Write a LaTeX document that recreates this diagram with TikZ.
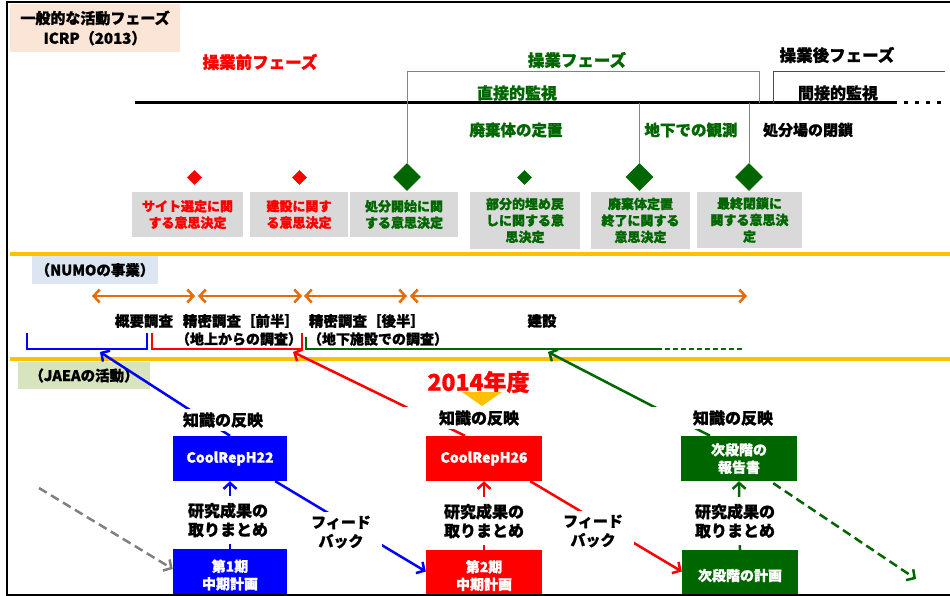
\documentclass[tikz,border=0pt]{standalone}
\usepackage{fontspec}
\setmainfont{Noto Sans CJK JP}[BoldFeatures={FakeBold=1.2}]
\usetikzlibrary{shapes.geometric,arrows.meta}

\definecolor{jblue}{HTML}{0000FF}
\definecolor{jred}{HTML}{FF0000}
\definecolor{jgreen}{HTML}{006600}
\definecolor{opgreen}{HTML}{5A9E5A}
\definecolor{gold}{HTML}{FFC000}
\definecolor{jorange}{HTML}{E46C0A}
\definecolor{peach}{HTML}{FBE5D6}
\definecolor{numobg}{HTML}{DCE6F2}
\definecolor{jaeabg}{HTML}{D7E4BD}
\definecolor{decbg}{HTML}{D9D9D9}
\newcommand{\jfs}[2]{\fontsize{#1}{#2}\selectfont\bfseries}

\begin{document}
\begin{tikzpicture}[x=1pt,y=-1pt,
  >={Straight Barb[length=6pt,width=13pt]},
  gem/.style={diamond, fill=#1, inner sep=0pt, minimum size=15pt},
  biggem/.style={diamond, fill=#1, inner sep=0pt, minimum size=28pt},
  decbox/.style={rectangle, fill=decbg, inner sep=0pt, align=center, font=\jfs{13}{16.5}},
  plan/.style={rectangle, fill=#1, text=white, inner sep=0pt, align=center, font=\jfs{14}{17.5}},
  lbl/.style={fill=white, inner sep=3pt, align=center, font=\jfs{16}{19}},
  period/.style={<->, jorange, line width=2.5pt},
  flow/.style={->, line width=2.5pt}]

  \useasboundingbox (0,0) rectangle (950,596);

  \node[fill=peach, minimum width=170pt, minimum height=48pt, align=center, font=\jfs{15}{20}] (hdr) at (95,28) {一般的な活動フェーズ\\ICRP（2013）};

  \node[text=jred, font=\jfs{16.5}{20}] (pre) at (260,62) {操業前フェーズ};
  \node[text=jgreen, font=\jfs{16.5}{20}] (op) at (577,60) {操業フェーズ};
  \node[font=\jfs{16.5}{20}] (post) at (837,55) {操業後フェーズ};

  \coordinate (tlA) at (135,103);
  \coordinate (tlB) at (897,103);
  \coordinate (tlC) at (945,103);
  \draw[line width=3pt] (tlA) -- (tlB);
  \draw[line width=3pt, dash pattern=on 4pt off 7pt] ([xshift=7pt]tlB) -- (tlC);

  \node[text=jgreen, font=\jfs{16}{19}] (direct) at (517,93) {直接的監視};
  \node[font=\jfs{16}{19}] (indirect) at (838,93) {間接的監視};
  \node[text=jgreen, font=\jfs{15.5}{19}] (emplace) at (516,130) {廃棄体の定置};
  \node[text=jgreen, font=\jfs{15.5}{19}] (observe) at (691,130) {地下での観測};
  \node[font=\jfs{15}{19}] (closure) at (808,130) {処分場の閉鎖};

  \node[gem=jred] (d1) at (194.5,177.5) {};
  \node[gem=jred] (d2) at (299.5,177.5) {};
  \node[biggem=jgreen] (d3) at (407,177) {};
  \node[gem=jgreen] (d4) at (524.5,177.5) {};
  \node[biggem=jgreen] (d5) at (639.5,177) {};
  \node[biggem=jgreen] (d6) at (749,177) {};

  \draw[opgreen] (d3.north) -- (407,71) -| (759,103);
  \draw[opgreen] (d5.north) -- (d5.north |- tlA);
  \draw[opgreen] (d6.north) -- (d6.north |- tlA);
  \draw[black!70] (773,103) |- (945,71);

  \node[decbox, minimum width=111pt, minimum height=45pt, text=jred] (dec1) at (187.5,214.5) {サイト選定に関\\する意思決定};
  \node[decbox, minimum width=98pt, minimum height=45pt, text=jred] (dec2) at (299,214.5) {建設に関す\\る意思決定};
  \node[decbox, minimum width=108pt, minimum height=45pt, text=jgreen] (dec3) at (404,214.5) {処分開始に関\\する意思決定};
  \node[decbox, minimum width=110pt, minimum height=57pt, text=jgreen] (dec4) at (525,220.5) {部分的埋め戻\\しに関する意\\思決定};
  \node[decbox, minimum width=99pt, minimum height=57pt, text=jgreen] (dec5) at (640.5,220.5) {廃棄体定置\\終了に関する\\意思決定};
  \node[decbox, minimum width=105pt, minimum height=56pt, text=jgreen] (dec6) at (749.5,220) {最終閉鎖に\\関する意思決\\定};

  \draw[gold, line width=4pt] (10,254) -- (950,254);
  \draw[gold, line width=4pt] (10,359) -- (950,359);

  \node[fill=numobg, minimum width=124pt, minimum height=28pt, font=\jfs{14.5}{17}] (numo) at (95,270) {（NUMOの事業）};

  \draw[period] (92,296) -- (195,296);
  \draw[period] (198,296) -- (302,296);
  \draw[period] (304,296) -- (407,296);
  \draw[period] (410,296) -- (747,296);

  \node[font=\jfs{14.5}{18}] (s1) at (144,321) {概要調査};
  \node[font=\jfs{14.5}{18}] (s2) at (241,321) {精密調査［前半］};
  \node[font=\jfs{14.5}{18}] (s3) at (367,321) {精密調査［後半］};
  \node[font=\jfs{14}{18}] (s2b) at (239,339) {（地上からの調査）};
  \node[font=\jfs{14}{18}] (s3b) at (378,339) {（地下施設での調査）};
  \node[font=\jfs{14.5}{18}] (s4) at (542,321) {建設};

  \draw[jblue, line width=1.5pt] (27,333) |- (147,349) -- (147,333);
  \draw[jred, line width=1.5pt] (152,333) |- (302,349) -- (302,333);
  \draw[jgreen, line width=1.5pt] (306,337) |- (657,349);
  \draw[jgreen, line width=1.5pt, dash pattern=on 5pt off 3pt] (657,349) -- (743,349);
  \coordinate (bb) at (100,352);
  \coordinate (rb) at (293,352);
  \coordinate (gb) at (548,352);

  \node[fill=jaeabg, minimum width=132pt, minimum height=27pt, font=\jfs{14.5}{17}] (jaea) at (84,375.5) {（JAEAの活動）};

  \node[plan=jblue, minimum width=114pt, minimum height=45pt] (b22) at (230,458.5) {CoolRepH22};
  \node[plan=jred, minimum width=116pt, minimum height=45pt] (b26) at (484,458.5) {CoolRepH26};
  \node[plan=jgreen, minimum width=116pt, minimum height=45pt] (brep) at (739,458.5) {次段階の\\報告書};
  \node[plan=jblue, minimum width=114pt, minimum height=52pt] (p1) at (230,575) {第1期\\中期計画};
  \node[plan=jred, minimum width=116pt, minimum height=51pt] (p2) at (484,575.5) {第2期\\中期計画};
  \node[plan=jgreen, minimum width=116pt, minimum height=51pt] (pn) at (740,575.5) {次段階の計画};

  \draw[flow, jblue] (b22.north) -- (bb);
  \draw[flow, jred] ([xshift=-19pt]b26.north) -- (rb);
  \draw[flow, jgreen] ([xshift=-29pt]brep.north) -- (gb);
  \draw[flow, jblue] (p1.north) -- (b22.south);
  \draw[flow, jred] (p2.north) -- (b26.south);
  \draw[flow, jgreen] (pn.north) -- (brep.south);
  \draw[flow, jblue] ([xshift=-12pt]b22.south east) -- ([yshift=4pt]p2.west);
  \draw[flow, jred] ([xshift=-12pt]b26.south east) -- ([yshift=4pt]pn.west);
  \coordinate (gs) at (39,488);
  \coordinate (ge) at (916,579);
  \draw[flow, gray, dash pattern=on 9pt off 5pt] (gs) -- ([yshift=6pt]p1.west);
  \draw[flow, jgreen, dash pattern=on 9pt off 5pt] ([xshift=-24pt,yshift=-2pt]brep.south east) -- (ge);

  \node[lbl] (k1) at (223,420) {知識の反映};
  \node[lbl, minimum width=172pt] (k2) at (479,418) {知識の反映};
  \node[lbl, minimum width=182pt] (k3) at (733,418) {知識の反映};
  \node[lbl, minimum height=48pt] (r1) at (228,520) {研究成果の\\取りまとめ};
  \node[lbl, minimum height=48pt] (r2) at (484,521) {研究成果の\\取りまとめ};
  \node[lbl, minimum height=48pt] (r3) at (735,521) {研究成果の\\取りまとめ};
  \node[lbl, font=\jfs{15}{19}, minimum width=82pt, minimum height=41pt] (f1) at (341,532) {フィード\\バック};
  \node[lbl, font=\jfs{15}{19}, minimum width=82pt, minimum height=41pt] (f2) at (593,531) {フィード\\バック};

  \node[text=jred, font=\jfs{23}{26}] (fy) at (478.5,382) {2014年度};
  \fill[gold] (462,392) -- (502,392) -- (482,406) -- cycle;

  \draw[line width=2pt] (952,2) -- (7,2) -- (7,595) -- (952,595);
\end{tikzpicture}
\end{document}
